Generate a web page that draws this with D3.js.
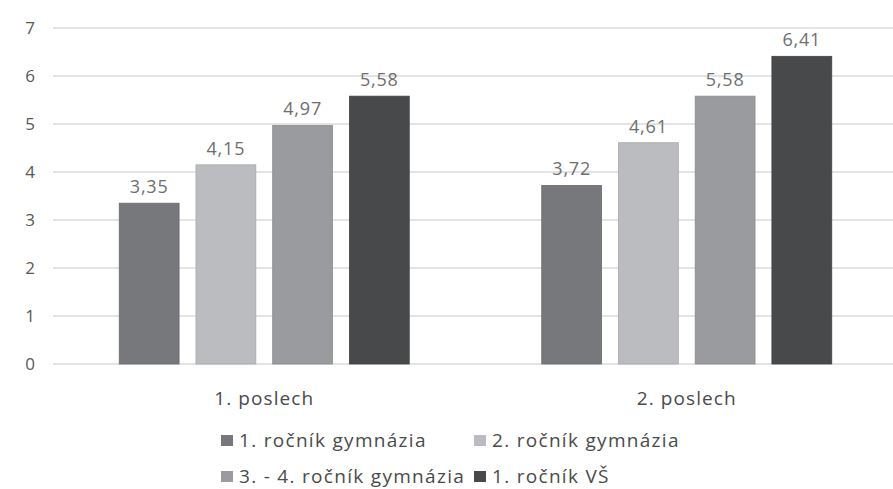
<!DOCTYPE html>
<html>
<head>
<meta charset="utf-8">
<style>
     body {
          margin: 0;
          background: white;
          font-family: "Open Sans", sans-serif;
     }
     .grid line {
          stroke: #e3e3e3;
          stroke-width: 2;
     }
     .y.axis text {
          font-size: 17px;
          fill: #595959;
     }
     .val-label {
          font-size: 18px;
          letter-spacing: 0.8px;
          fill: #6e6e6e;
          text-anchor: middle;
     }
     .cat-label {
          font-size: 19px;
          letter-spacing: 1.1px;
          fill: #4a4a4a;
          text-anchor: middle;
     }
     .legend text {
          font-size: 19px;
          letter-spacing: 1.3px;
          fill: #4a4a4a;
     }
</style>
</head>
<body>
<script src="https://d3js.org/d3.v7.min.js"></script>
<script>

     var categories = ["1. poslech", "2. poslech"];
     var seriesNames = ["1. ročník gymnázia", "2. ročník gymnázia", "3. - 4. ročník gymnázia", "1. ročník VŠ"];
     var seriesColors = ["#77787c", "#bbbcbf", "#9a9b9e", "#48494b"];
     var values1 = [3.35, 4.15, 4.97, 5.58];   // 1. poslech
     var values2 = [3.72, 4.61, 5.58, 6.41];   // 2. poslech
     var yTicks = [0, 1, 2, 3, 4, 5, 6, 7];

     var data = [values1, values2];

     var width = 893, height = 489;
     var margin = {top: 28, left: 53, bottom: 125};
     var plotRight = 898;

     var svg = d3.select("body").append("svg")
          .attr("width", width)
          .attr("height", height);

     var x = d3.scaleBand()
          .domain(categories)
          .range([margin.left, plotRight]);

     var xInner = d3.scaleBand()
          .domain(d3.range(seriesNames.length))
          .range([0, 290])
          .paddingInner(0.22);

     var y = d3.scaleLinear()
          .domain([0, 7])
          .range([height - margin.bottom, margin.top]);

     // gridlines
     svg.append("g")
          .attr("class", "grid")
          .selectAll("line").data(yTicks)
       .enter().append("line")
          .attr("x1", margin.left)
          .attr("x2", width)
          .attr("y1", function(d) { return y(d); })
          .attr("y2", function(d) { return y(d); });

     var yAxis = d3.axisLeft(y)
          .tickValues(yTicks)
          .tickFormat(d3.format("d"))
          .tickSize(0)
          .tickPadding(18);

     svg.append("g")
          .attr("class", "y axis")
          .attr("transform", "translate(" + margin.left + ",0)")
          .call(yAxis)
          .call(function(g) { g.select(".domain").remove(); })
          .selectAll("text")
          .style("font-family", "'Open Sans', sans-serif");

     var groups = svg.selectAll(".group")
          .data(data)
       .enter().append("g")
          .attr("class", "group")
          .attr("transform", function(d, i) {
               return "translate(" + (x(categories[i]) + (x.bandwidth() - 290) / 2) + ",0)";
          });

     groups.selectAll("rect")
          .data(function(d) { return d; })
       .enter().append("rect")
          .attr("x", function(d, j) { return xInner(j); })
          .attr("y", function(d) { return y(d); })
          .attr("width", xInner.bandwidth())
          .attr("height", function(d) { return y(0) - y(d); })
          .attr("fill", function(d, j) { return seriesColors[j]; })
          .attr("stroke", function(d, j) { return d3.color(seriesColors[j]).darker(0.3); })
          .attr("stroke-width", 0.8);

     groups.selectAll(".val-label")
          .data(function(d) { return d; })
       .enter().append("text")
          .attr("class", "val-label")
          .attr("x", function(d, j) { return xInner(j) + xInner.bandwidth() / 2; })
          .attr("y", function(d) { return y(d) - 10; })
          .text(function(d) { return d.toFixed(2).replace(".", ","); });

     svg.selectAll(".cat-label")
          .data(categories)
       .enter().append("text")
          .attr("class", "cat-label")
          .attr("x", function(d) { return x(d) + x.bandwidth() / 2; })
          .attr("y", 405)
          .text(function(d) { return d; });

     // legend, two rows of two
     var legend = svg.append("g").attr("class", "legend");
     var legendX = [221, 474], legendY = [447, 483];

     var items = legend.selectAll("g")
          .data(seriesNames)
       .enter().append("g")
          .attr("transform", function(d, i) {
               return "translate(" + legendX[i % 2] + "," + legendY[Math.floor(i / 2)] + ")";
          });

     items.append("rect")
          .attr("x", 0)
          .attr("y", -12)
          .attr("width", 12)
          .attr("height", 11)
          .attr("fill", function(d, i) { return seriesColors[i]; });

     items.append("text")
          .attr("x", 18)
          .attr("y", 0)
          .text(function(d) { return d; });

</script>
</body>
</html>
